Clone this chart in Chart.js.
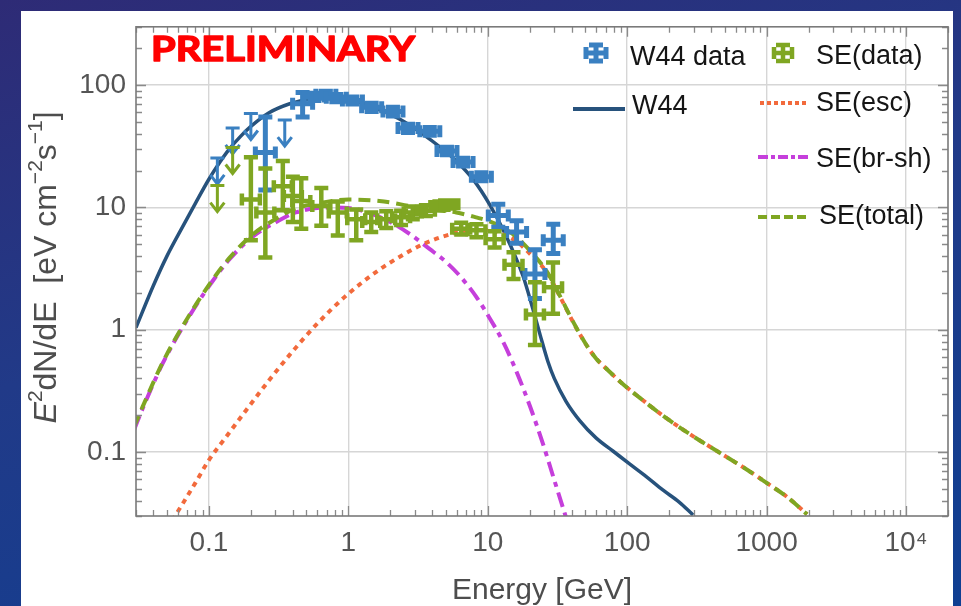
<!DOCTYPE html>
<html>
<head>
<meta charset="utf-8">
<script src="https://cdn.jsdelivr.net/npm/chart.js@4.4.1/dist/chart.umd.min.js"></script>
<style>
  html, body { margin: 0; padding: 0; }
  body {
    width: 961px; height: 606px; overflow: hidden; position: relative;
    background: linear-gradient(165deg, #2e2b76 0%, #213a88 45%, #0f3f92 100%);
  }
  #panel { position: absolute; left: 21px; top: 11px; width: 932px; height: 595px; background: #fff; }
  #c { position: absolute; left: 0; top: 0; }
</style>
</head>
<body>
<div id="panel"></div>
<canvas id="c" width="961" height="606"></canvas>
<script>
// ---- model curves (E in GeV, E^2 dN/dE in eV cm^-2 s^-1)
const w44E = [0.03, 0.04, 0.05, 0.065, 0.08, 0.1, 0.12, 0.14, 0.17, 0.2, 0.27, 0.38, 0.53, 0.75, 1.0, 1.67, 2.5, 3.4, 4.5, 5.95, 7.9, 10.3, 13.5, 17.9, 21, 23.8, 27, 30, 36.4, 45.8, 60, 79, 104, 137, 180, 236, 297];
const w44V = [1.04, 2.3, 4.0, 7.0, 10.8, 17.0, 23.5, 30, 38.5, 46, 59.5, 70.5, 77.2, 79.5, 77.5, 63, 50.5, 40, 31.5, 24, 16.8, 10.6, 5.9, 2.75, 1.5, 0.9, 0.55, 0.4, 0.26, 0.18, 0.13, 0.102, 0.08, 0.063, 0.049, 0.039, 0.0306];

const escE = [0.05, 0.065, 0.08, 0.1, 0.133, 0.185, 0.272, 0.378, 0.589, 0.965, 1.67, 2.34, 3.43, 5.3, 8, 10, 13, 16, 20, 26.5, 32.7, 41, 51, 60, 71, 93, 122, 190, 296, 466, 720, 1000, 1400, 1950];
const escV = [0.0235, 0.038, 0.056, 0.086, 0.133, 0.22, 0.39, 0.62, 1.1, 1.9, 3.1, 3.95, 5.0, 6.0, 6.55, 6.5, 6.0, 5.3, 4.2, 2.94, 1.9, 1.15, 0.75, 0.58, 0.48, 0.36, 0.28, 0.19, 0.135, 0.098, 0.072, 0.056, 0.043, 0.031];

const brE = [0.029, 0.0335, 0.0466, 0.0649, 0.0955, 0.14, 0.206, 0.304, 0.42, 0.73, 1.0, 1.42, 2.0, 2.8, 3.8, 5.0, 6.5, 8.3, 10.3, 13, 16, 20, 25, 30, 36.5];
const brV = [0.151, 0.227, 0.53, 1.05, 2.1, 3.75, 5.76, 7.6, 9.1, 10.0, 9.9, 9.0, 7.6, 6.0, 4.6, 3.6, 2.65, 1.85, 1.25, 0.78, 0.46, 0.24, 0.115, 0.059, 0.029];

const totE = [0.029, 0.0335, 0.0466, 0.0649, 0.0955, 0.14, 0.206, 0.304, 0.42, 0.73, 1.0, 1.67, 2.75, 4, 5.95, 8.25, 10.3, 13, 16, 20, 26.5, 32.7, 41, 51, 60, 71, 93, 122, 190, 296, 466, 720, 1000, 1400, 1950];
const totV = [0.16, 0.235, 0.54, 1.07, 2.15, 3.85, 6.0, 8.1, 9.8, 11.2, 11.6, 11.3, 10.3, 9.6, 9.1, 8.3, 7.7, 6.8, 5.75, 4.45, 3.0, 1.92, 1.16, 0.75, 0.58, 0.48, 0.36, 0.28, 0.19, 0.135, 0.098, 0.072, 0.056, 0.043, 0.031];

// ---- W44 data points and upper limits
const w44DataE  = [0.254, 0.47, 0.57, 0.69, 0.82, 1.07, 1.47, 2.09, 2.68, 3.84, 5.1, 6.65, 9.0, 11.9, 16.1, 21.8, 29.5];
const w44DataV  = [28.2, 70.5, 80.6, 83.6, 78.7, 75, 66, 61, 44.6, 42, 29, 23.5, 17.8, 8.6, 6.3, 2.85, 5.4];
const w44DataLo = [13.9, 55, 75, 78, 73, 70, 61, 56, 41, 39, 27, 21.8, 16.5, 6.9, 5.1, 1.8, 4.2];
const w44DataHi = [55, 87, 86, 89, 84, 80, 71, 66, 48, 45, 31, 25.3, 19.2, 10.6, 7.8, 4.5, 7.3];
const w44UlE = [0.115, 0.148, 0.2, 0.35];
const w44UlV = [25.4, 44.7, 58.6, 51.8];

// ---- SE data points and upper limits
const seDataE  = [0.2, 0.254, 0.339, 0.40, 0.46, 0.64, 0.84, 1.14, 1.46, 1.87, 2.39, 2.9, 3.6, 4.5, 5.3, 6.45, 8.3, 11.2, 15.3, 21.8, 29.4];
const seDataV  = [11.6, 9.1, 14.9, 12.4, 11.3, 10.3, 9.1, 8.0, 7.6, 8.0, 8.3, 9.1, 9.4, 10.3, 10.6, 6.7, 6.5, 5.5, 3.4, 1.33, 2.23];
const seDataLo = [5.4, 3.9, 9.5, 7.6, 6.7, 7.1, 5.9, 5.4, 6.3, 6.8, 7.2, 8.0, 8.5, 9.5, 9.8, 6.0, 5.7, 4.7, 2.6, 0.75, 1.35];
const seDataHi = [25.7, 20.8, 24.0, 17.8, 17.3, 14.4, 11.2, 9.6, 9.1, 9.3, 9.4, 10.2, 10.4, 11.2, 11.4, 7.5, 7.3, 6.4, 4.3, 2.44, 3.55];
const seUlE = [0.115, 0.148];
const seUlV = [15.1, 30.9];

// ---- axis ticks
const xTickVals = [0.1, 1, 10, 100, 1000, 10000];
const xTickLabels = ["0.1", "1", "10", "100", "1000", "10⁴"];
const yTickVals = [0.1, 1, 10, 100];
const yTickLabels = ["0.1", "1", "10", "100"];

const NAVY = "#27527c", ORANGE = "#f26a3c", MAGENTA = "#c53fdb", GREEN = "#7fa622", BLUE = "#3a80c1";
const FONT = '"Liberation Sans", Arial, sans-serif';

const curve = (xs, ys) => xs.map((x, i) => ({ x: x, y: ys[i] }));
const points = (xs, ys, lo, hi) => xs.map((x, i) => ({ x: x, y: ys[i], lo: lo ? lo[i] : null, hi: hi ? hi[i] : null }));

const lineSet = (label, xs, ys, color, dash, width) => ({
  label: label, data: curve(xs, ys), showLine: true, borderColor: color,
  borderWidth: width, borderDash: dash, pointRadius: 0, cubicInterpolationMode: "monotone", fill: false,
});

// cross-shaped error bar, all sizes in pixels
function drawCross(ctx, px, py, pyHi, pyLo, st) {
  ctx.strokeStyle = st.color;
  ctx.lineWidth = st.lw;
  ctx.beginPath();
  ctx.moveTo(px - st.halfW, py); ctx.lineTo(px + st.halfW, py);
  ctx.moveTo(px - st.halfW, py - st.capH); ctx.lineTo(px - st.halfW, py + st.capH);
  ctx.moveTo(px + st.halfW, py - st.capH); ctx.lineTo(px + st.halfW, py + st.capH);
  ctx.moveTo(px, pyHi); ctx.lineTo(px, pyLo);
  ctx.moveTo(px - st.capW, pyHi); ctx.lineTo(px + st.capW, pyHi);
  ctx.moveTo(px - st.capW, pyLo); ctx.lineTo(px + st.capW, pyLo);
  ctx.stroke();
}

function drawUL(ctx, px, py, color) {
  ctx.strokeStyle = color;
  ctx.lineWidth = 3;
  ctx.beginPath();
  ctx.moveTo(px - 7, py); ctx.lineTo(px + 7, py);
  ctx.moveTo(px, py); ctx.lineTo(px, py + 26);
  ctx.moveTo(px - 7, py + 17); ctx.lineTo(px, py + 26); ctx.lineTo(px + 7, py + 17);
  ctx.stroke();
}

const blueStyle = { color: BLUE, lw: 5, halfW: 10, capH: 6, capW: 7 };
const greenStyle = { color: GREEN, lw: 4.5, halfW: 9, capH: 6, capW: 7 };

function logMarks(min, max) {
  const out = [];
  for (let e = Math.floor(Math.log10(min)); e <= Math.ceil(Math.log10(max)); e++) {
    for (let m = 1; m <= 9; m++) {
      const v = m * Math.pow(10, e);
      if (v >= min * 0.999 && v <= max * 1.001) out.push([v, m === 1]);
    }
  }
  return out;
}

function richText(ctx, parts) {
  let w = 0;
  parts.forEach(p => { ctx.font = p.font; w += ctx.measureText(p.t).width; });
  let x = -w / 2;
  parts.forEach(p => { ctx.font = p.font; ctx.fillText(p.t, x, p.dy); x += ctx.measureText(p.t).width; });
}

const decor = {
  id: "decor",
  afterDatasetsDraw(chart) {
    const { ctx, chartArea: a, scales: { x, y } } = chart;
    ctx.save();

    // frame and inner ticks
    ctx.strokeStyle = "#8a8a8a";
    ctx.lineWidth = 1.3;
    logMarks(x.min, x.max).forEach(([v, major]) => {
      const px = Math.round(x.getPixelForValue(v)) + 0.5, len = major ? 10 : 6;
      ctx.beginPath();
      ctx.moveTo(px, a.bottom); ctx.lineTo(px, a.bottom - len);
      ctx.moveTo(px, a.top); ctx.lineTo(px, a.top + len);
      ctx.stroke();
    });
    logMarks(y.min, y.max).forEach(([v, major]) => {
      const py = Math.round(y.getPixelForValue(v)) + 0.5, len = major ? 10 : 6;
      ctx.beginPath();
      ctx.moveTo(a.left, py); ctx.lineTo(a.left + len, py);
      ctx.moveTo(a.right, py); ctx.lineTo(a.right - len, py);
      ctx.stroke();
    });
    ctx.strokeStyle = "#7a7a7a";
    ctx.lineWidth = 1.6;
    ctx.strokeRect(a.left, a.top, a.right - a.left, a.bottom - a.top);

    // data points with error bars, blue first then green
    ctx.lineCap = "butt";
    chart.data.datasets.forEach(ds => {
      if (!ds.marks) return;
      ds.data.forEach(p => {
        const px = x.getPixelForValue(p.x), py = y.getPixelForValue(p.y);
        if (ds.marks === "ul") drawUL(ctx, px, py, ds.markColor);
        else drawCross(ctx, px, py, y.getPixelForValue(p.hi), y.getPixelForValue(p.lo), ds.markStyle);
      });
    });

    // legend
    drawCross(ctx, 596, 53, 45, 61, blueStyle);
    drawCross(ctx, 783, 53, 45, 61, greenStyle);
    const legLine = (x0, x1, yy, color, dash, w) => {
      ctx.strokeStyle = color; ctx.lineWidth = w; ctx.setLineDash(dash);
      ctx.beginPath(); ctx.moveTo(x0, yy); ctx.lineTo(x1, yy); ctx.stroke();
      ctx.setLineDash([]);
    };
    legLine(573, 625, 109, NAVY, [], 4);
    legLine(760, 809, 103, ORANGE, [4, 3], 4);
    legLine(758, 809, 157, MAGENTA, [10, 3, 4, 3], 4);
    legLine(758, 809, 217, GREEN, [9, 4], 4);
    ctx.fillStyle = "#151515";
    ctx.font = "27px " + FONT;
    ctx.textBaseline = "alphabetic";
    ctx.fillText("W44 data", 630, 65);
    ctx.fillText("SE(data)", 816, 64);
    ctx.fillText("W44", 632, 114);
    ctx.fillText("SE(esc)", 816, 111);
    ctx.fillText("SE(br-sh)", 816, 167);
    ctx.fillText("SE(total)", 819, 224);

    // PRELIMINARY stamp, thickened with a stroke
    ctx.fillStyle = "#ff0000";
    ctx.strokeStyle = "#ff0000";
    ctx.font = "bold 34px Lato, 'Open Sans', sans-serif";
    const pw = ctx.measureText("PRELIMINARY").width;
    ctx.save();
    ctx.translate(151, 61);
    ctx.scale(264 / pw, 1);
    ctx.lineWidth = 1.4;
    ctx.lineJoin = "round";
    ctx.fillText("PRELIMINARY", 0, 0);
    ctx.strokeText("PRELIMINARY", 0, 0);
    ctx.restore();

    // axis titles
    ctx.fillStyle = "#4d4d4d";
    ctx.textAlign = "center";
    ctx.font = "30px " + FONT;
    ctx.fillText("Energy [GeV]", (a.left + a.right) / 2, 599);
    ctx.textAlign = "left";
    ctx.save();
    ctx.translate(45, (a.top + a.bottom) / 2 - 4);
    ctx.rotate(-Math.PI / 2);
    const big = "32px " + FONT, small = "21px " + FONT;
    richText(ctx, [
      { t: "E", font: "italic " + big, dy: 11 },
      { t: "2", font: small, dy: -3 },
      { t: "dN/dE  [eV cm", font: big, dy: 11 },
      { t: "−2", font: small, dy: -3 },
      { t: "s", font: big, dy: 11 },
      { t: "−1", font: small, dy: -3 },
      { t: "]", font: big, dy: 11 },
    ]);
    ctx.restore();
    ctx.restore();
  },
};

new Chart(document.getElementById("c"), {
  type: "scatter",
  data: {
    datasets: [
      lineSet("SE(total)", totE, totV, GREEN, [12, 7], 4),
      lineSet("SE(esc)", escE, escV, ORANGE, [5, 5], 4),
      lineSet("SE(br-sh)", brE, brV, MAGENTA, [15, 6, 5, 6], 4),
      lineSet("W44", w44E, w44V, NAVY, [], 3.5),
      { label: "W44 UL", data: points(w44UlE, w44UlV), pointRadius: 0, marks: "ul", markColor: BLUE },
      { label: "W44 data", data: points(w44DataE, w44DataV, w44DataLo, w44DataHi), pointRadius: 0, marks: "bar", markStyle: blueStyle },
      { label: "SE UL", data: points(seUlE, seUlV), pointRadius: 0, marks: "ul", markColor: GREEN },
      { label: "SE(data)", data: points(seDataE, seDataV, seDataLo, seDataHi), pointRadius: 0, marks: "bar", markStyle: greenStyle },
    ],
  },
  options: {
    responsive: false,
    animation: false,
    layout: { padding: { left: 0, top: 15, right: 13, bottom: 0 } },
    plugins: { legend: { display: false }, tooltip: { enabled: false } },
    scales: {
      x: {
        type: "logarithmic", min: 0.03, max: 20000,
        afterBuildTicks: s => { s.ticks = xTickVals.map(v => ({ value: v })); },
        afterFit: s => { s.height = 90; },
        grid: { color: "#d6d6d6", lineWidth: 1.4, drawTicks: false },
        border: { display: false },
        ticks: {
          autoSkip: false, maxRotation: 0, padding: 10, color: "#555",
          font: { family: FONT, size: 28 },
          callback: v => { const i = xTickVals.indexOf(v); return i >= 0 ? xTickLabels[i] : ""; },
        },
      },
      y: {
        type: "logarithmic", min: 0.03, max: 300,
        afterBuildTicks: s => { s.ticks = yTickVals.map(v => ({ value: v })); },
        afterFit: s => { s.width = 136; },
        grid: { color: "#d6d6d6", lineWidth: 1.4, drawTicks: false },
        border: { display: false },
        ticks: {
          padding: 10, color: "#555",
          font: { family: FONT, size: 28 },
          callback: v => { const i = yTickVals.indexOf(v); return i >= 0 ? yTickLabels[i] : ""; },
        },
      },
    },
  },
  plugins: [decor],
});
</script>
</body>
</html>
